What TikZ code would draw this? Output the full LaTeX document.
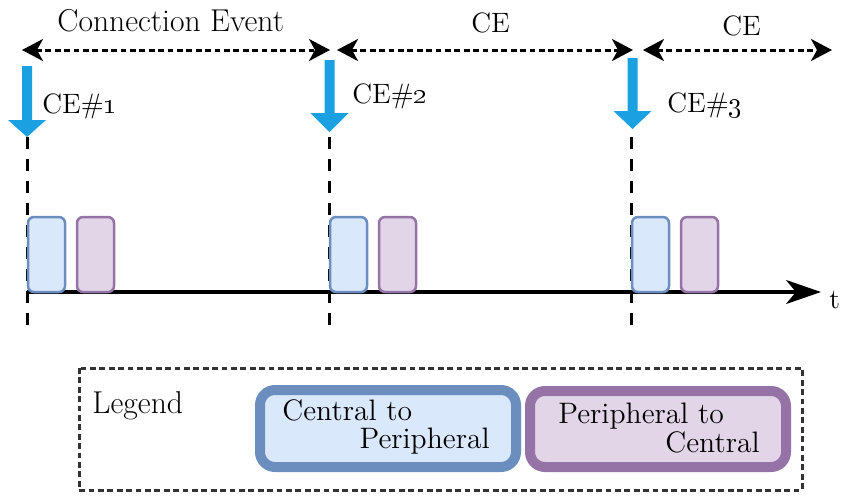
\documentclass[tikz,border=0pt]{standalone}
\usetikzlibrary{arrows.meta}
\definecolor{ceblue}{HTML}{1BA1E2}
\definecolor{cpfill}{HTML}{DAE8FC}
\definecolor{cpdraw}{HTML}{6C8EBF}
\definecolor{pcfill}{HTML}{E1D5E7}
\definecolor{pcdraw}{HTML}{9673A6}
\definecolor{legendgray}{HTML}{333333}
\begin{document}
\begin{tikzpicture}[x=0.5pt,y=-0.5pt,
  lbl/.style={inner sep=0pt,font=\fontsize{15.8}{18}\selectfont},
  celbl/.style={inner sep=0pt,font=\fontsize{14}{16}\selectfont},
  boxlbl/.style={inner sep=0pt,font=\fontsize{14.8}{17}\selectfont},
  span/.style={line width=1.5pt,dash pattern=on 2.9pt off 1.8pt,
    {Stealth[length=10.5pt,width=11pt,inset=3pt]}-{Stealth[length=10.5pt,width=11pt,inset=3pt]}},
  marker/.style={line width=1.5pt,dash pattern=on 5.75pt off 5.25pt},
  axis/.style={line width=1.6pt,-{Stealth[length=17.5pt,width=12pt,inset=5pt]}},
  cpbox/.style={fill=cpfill,draw=cpdraw,line width=1.25pt,rounded corners=3pt},
  pcbox/.style={fill=pcfill,draw=pcdraw,line width=1.25pt,rounded corners=3pt},
  cpkey/.style={fill=cpfill,draw=cpdraw,line width=5pt,rounded corners=7.5pt},
  pckey/.style={fill=pcfill,draw=pcdraw,line width=5pt,rounded corners=7.5pt},
  legendframe/.style={draw=legendgray,line width=1.5pt,dash pattern=on 2.9pt off 1.8pt}
]
\useasboundingbox (0,0) rectangle (843,495);

% spans of the connection events
\coordinate (s1a) at (22,50);  \coordinate (s1b) at (330,50);
\coordinate (s2a) at (337,50); \coordinate (s2b) at (633,50);
\coordinate (s3a) at (643,50); \coordinate (s3b) at (832,50);
\draw[span] (s1a) -- (s1b);
\draw[span] (s2a) -- (s2b);
\draw[span] (s3a) -- (s3b);
\node[lbl,anchor=base west] (lce) at (57,31) {Connection Event};
\node[celbl,anchor=base west] (lce2) at (471,32) {CE};
\node[celbl,anchor=base west] (lce3) at (722,35) {CE};

% event markers: dashed time lines
\foreach \x/\n in {27/1,329/2,631/3}{
  \coordinate (m\n top) at (\x,137);
  \coordinate (m\n bot) at (\x,331);
  \draw[marker] (m\n top) -- (m\n bot);
}

% time axis
\coordinate (t0) at (27,292);
\coordinate (t1) at (821,292);
\draw[axis] (t0) -- (t1);
\node[celbl,anchor=west] (tlabel) at (829,300) {t};

% blue down arrows: centre / top / head top / tip
\foreach \c/\t/\h/\p in {27/66/120/137, 329.5/60/113/132, 632.5/58/111/129}{
  \fill[ceblue] (\c-5,\t) -- (\c+5,\t) -- (\c+5,\h) -- (\c+19,\h)
    -- (\c,\p) -- (\c-19,\h) -- (\c-5,\h) -- cycle;
}
\node[celbl,anchor=base west] (ce1) at (42,113) {CE\#\oldstylenums{1}};
\node[celbl,anchor=base west] (ce2) at (352,103) {CE\#\oldstylenums{2}};
\node[celbl,anchor=base west] (ce3) at (667,112) {CE\#\oldstylenums{3}};

% packets in each connection event
\foreach \x/\n in {27/1,329/2,631/3}{
  \draw[cpbox] (\x+1,217) rectangle (\x+38,292);
  \draw[pcbox] (\x+50,217) rectangle (\x+87,292);
}

% legend
\draw[legendframe] (79,368) rectangle (802,490);
\node[lbl,anchor=base west] (leg) at (92,413) {Legend};
\draw[cpkey] (260,390) rectangle (516,467);
\draw[pckey] (530,391) rectangle (786,467);
\node[boxlbl,anchor=base west] (cp1) at (282,420) {Central to};
\node[boxlbl,anchor=base east] (cp2) at (490,448) {Peripheral};
\node[boxlbl,anchor=base west] (pc1) at (558,423) {Peripheral to};
\node[boxlbl,anchor=base east] (pc2) at (760,452) {Central};
\end{tikzpicture}
\end{document}
